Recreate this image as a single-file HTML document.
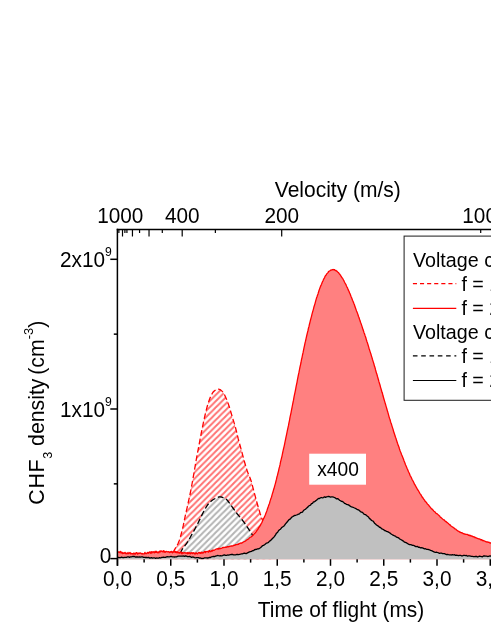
<!DOCTYPE html>
<html><head><meta charset="utf-8"><title>chart</title>
<style>html,body{margin:0;padding:0;background:#fff;}body{width:491px;height:635px;overflow:hidden;position:relative;font-family:"Liberation Sans",sans-serif;}</style>
</head><body>
<svg width="491" height="635" viewBox="0 0 491 635" style="position:absolute;left:0;top:0;will-change:transform;font-family:'Liberation Sans',sans-serif;">
<defs>
<pattern id="hr" patternTransform="translate(-1.8,0)" patternUnits="userSpaceOnUse" width="6.25" height="6.25"><path d="M-1,7.25 L7.25,-1 M-1,1 L1,-1 M5.25,7.25 L7.25,5.25" stroke="#ff7272" stroke-width="2.0"/></pattern>
<pattern id="hg" patternTransform="translate(-1.8,0)" patternUnits="userSpaceOnUse" width="6.25" height="6.25"><rect width="6.25" height="6.25" fill="#fff"/><path d="M-1,7.25 L7.25,-1 M-1,1 L1,-1 M5.25,7.25 L7.25,5.25" stroke="#b4b4b4" stroke-width="2.0"/></pattern>
<clipPath id="cp"><rect x="117.5" y="229.5" width="380" height="329.9"/></clipPath>
</defs>
<rect width="491" height="635" fill="#fff"/>
<g clip-path="url(#cp)">
<path d="M173.2,552.5 L174.2,550.4 L175.2,548.5 L176.2,546.8 L177.2,545.1 L178.2,543.2 L179.2,540.8 L180.2,537.7 L181.2,534.0 L182.2,530.1 L183.2,525.9 L184.2,521.1 L185.2,516.2 L186.2,511.7 L187.2,507.3 L188.2,502.7 L189.2,498.2 L190.2,493.5 L191.2,488.5 L192.2,483.0 L193.2,477.4 L194.2,471.7 L195.2,465.9 L196.2,460.0 L197.2,454.5 L198.2,449.3 L199.2,444.0 L200.2,438.7 L201.2,433.4 L202.2,428.4 L203.2,423.6 L204.2,418.9 L205.2,414.5 L206.2,410.3 L207.2,406.5 L208.2,403.1 L209.2,400.2 L210.2,397.6 L211.2,395.5 L212.2,393.5 L213.2,391.9 L214.2,391.0 L215.2,390.3 L216.2,389.8 L217.2,389.4 L218.2,389.2 L219.2,389.3 L220.2,389.7 L221.2,390.4 L222.2,391.4 L223.2,392.4 L224.2,394.1 L225.2,396.2 L226.2,398.5 L227.2,400.9 L228.2,403.6 L229.2,406.5 L230.2,409.7 L231.2,413.2 L232.2,416.7 L233.2,419.9 L234.2,423.1 L235.2,426.4 L236.2,430.3 L237.2,434.6 L238.2,438.7 L239.2,442.4 L240.2,446.0 L241.2,449.6 L242.2,453.3 L243.2,457.1 L244.2,460.8 L245.2,464.3 L246.2,467.7 L247.2,470.8 L248.2,473.6 L249.2,475.9 L250.2,478.3 L251.2,481.3 L252.2,484.8 L253.2,488.7 L254.2,492.5 L255.2,496.2 L256.2,499.9 L257.2,503.5 L258.2,507.0 L259.2,510.4 L260.2,513.7 L261.2,516.6 L262.2,519.3 L263.2,521.8 L264.2,524.6 L265.2,527.6 L266.2,530.7 L267.2,533.7 L268.2,536.5 L269.2,539.1 L270.2,541.6 L271.2,544.0 L271.2,559.4 L173.2,559.4 Z" fill="url(#hr)" stroke="none"/>
<path d="M173.2,552.5 L174.2,550.4 L175.2,548.5 L176.2,546.8 L177.2,545.1 L178.2,543.2 L179.2,540.8 L180.2,537.7 L181.2,534.0 L182.2,530.1 L183.2,525.9 L184.2,521.1 L185.2,516.2 L186.2,511.7 L187.2,507.3 L188.2,502.7 L189.2,498.2 L190.2,493.5 L191.2,488.5 L192.2,483.0 L193.2,477.4 L194.2,471.7 L195.2,465.9 L196.2,460.0 L197.2,454.5 L198.2,449.3 L199.2,444.0 L200.2,438.7 L201.2,433.4 L202.2,428.4 L203.2,423.6 L204.2,418.9 L205.2,414.5 L206.2,410.3 L207.2,406.5 L208.2,403.1 L209.2,400.2 L210.2,397.6 L211.2,395.5 L212.2,393.5 L213.2,391.9 L214.2,391.0 L215.2,390.3 L216.2,389.8 L217.2,389.4 L218.2,389.2 L219.2,389.3 L220.2,389.7 L221.2,390.4 L222.2,391.4 L223.2,392.4 L224.2,394.1 L225.2,396.2 L226.2,398.5 L227.2,400.9 L228.2,403.6 L229.2,406.5 L230.2,409.7 L231.2,413.2 L232.2,416.7 L233.2,419.9 L234.2,423.1 L235.2,426.4 L236.2,430.3 L237.2,434.6 L238.2,438.7 L239.2,442.4 L240.2,446.0 L241.2,449.6 L242.2,453.3 L243.2,457.1 L244.2,460.8 L245.2,464.3 L246.2,467.7 L247.2,470.8 L248.2,473.6 L249.2,475.9 L250.2,478.3 L251.2,481.3 L252.2,484.8 L253.2,488.7 L254.2,492.5 L255.2,496.2 L256.2,499.9 L257.2,503.5 L258.2,507.0 L259.2,510.4 L260.2,513.7 L261.2,516.6 L262.2,519.3 L263.2,521.8 L264.2,524.6 L265.2,527.6 L266.2,530.7 L267.2,533.7 L268.2,536.5 L269.2,539.1 L270.2,541.6 L271.2,544.0" fill="none" stroke="#ff0000" stroke-width="1.3" stroke-dasharray="5.8,2.8"/>
<path d="M180.3,553.5 L181.3,551.0 L182.3,549.2 L183.3,547.8 L184.3,546.5 L185.3,545.2 L186.3,543.9 L187.3,542.4 L188.3,540.7 L189.3,539.0 L190.3,537.2 L191.3,535.4 L192.3,533.6 L193.3,531.9 L194.3,530.1 L195.3,528.3 L196.3,526.4 L197.3,524.5 L198.3,522.5 L199.3,520.4 L200.3,518.4 L201.3,516.3 L202.3,514.3 L203.3,512.2 L204.3,510.3 L205.3,508.6 L206.3,506.9 L207.3,505.4 L208.3,504.0 L209.3,502.9 L210.3,501.9 L211.3,501.0 L212.3,500.2 L213.3,499.5 L214.3,499.0 L215.3,498.5 L216.3,498.0 L217.3,497.5 L218.3,497.2 L219.3,496.9 L220.3,496.9 L221.3,497.0 L222.3,497.3 L223.3,497.7 L224.3,498.1 L225.3,498.6 L226.3,499.3 L227.3,500.3 L228.3,501.5 L229.3,502.9 L230.3,504.4 L231.3,505.7 L232.3,507.1 L233.3,508.5 L234.3,509.9 L235.3,511.4 L236.3,512.7 L237.3,514.0 L238.3,515.2 L239.3,516.4 L240.3,517.5 L241.3,518.7 L242.3,520.0 L243.3,521.3 L244.3,522.7 L245.3,524.2 L246.3,525.6 L247.3,527.1 L248.3,528.6 L249.3,530.1 L250.3,531.6 L251.3,533.2 L252.3,534.8 L253.3,536.4 L254.3,538.2 L255.3,539.9 L256.3,541.4 L257.3,542.9 L258.3,544.2 L259.3,545.5 L260.3,546.8 L261.3,548.1 L261.3,559.4 L180.3,559.4 Z" fill="url(#hg)" stroke="none"/>
<path d="M180.3,553.5 L181.3,551.0 L182.3,549.2 L183.3,547.8 L184.3,546.5 L185.3,545.2 L186.3,543.9 L187.3,542.4 L188.3,540.7 L189.3,539.0 L190.3,537.2 L191.3,535.4 L192.3,533.6 L193.3,531.9 L194.3,530.1 L195.3,528.3 L196.3,526.4 L197.3,524.5 L198.3,522.5 L199.3,520.4 L200.3,518.4 L201.3,516.3 L202.3,514.3 L203.3,512.2 L204.3,510.3 L205.3,508.6 L206.3,506.9 L207.3,505.4 L208.3,504.0 L209.3,502.9 L210.3,501.9 L211.3,501.0 L212.3,500.2 L213.3,499.5 L214.3,499.0 L215.3,498.5 L216.3,498.0 L217.3,497.5 L218.3,497.2 L219.3,496.9 L220.3,496.9 L221.3,497.0 L222.3,497.3 L223.3,497.7 L224.3,498.1 L225.3,498.6 L226.3,499.3 L227.3,500.3 L228.3,501.5 L229.3,502.9 L230.3,504.4 L231.3,505.7 L232.3,507.1 L233.3,508.5 L234.3,509.9 L235.3,511.4 L236.3,512.7 L237.3,514.0 L238.3,515.2 L239.3,516.4 L240.3,517.5 L241.3,518.7 L242.3,520.0 L243.3,521.3 L244.3,522.7 L245.3,524.2 L246.3,525.6 L247.3,527.1 L248.3,528.6 L249.3,530.1 L250.3,531.6 L251.3,533.2 L252.3,534.8 L253.3,536.4 L254.3,538.2 L255.3,539.9 L256.3,541.4 L257.3,542.9 L258.3,544.2 L259.3,545.5 L260.3,546.8 L261.3,548.1" fill="none" stroke="#000" stroke-width="1.3" stroke-dasharray="5.8,2.8"/>
<path d="M117.5,551.5 L118.0,552.1 L118.5,551.9 L119.0,552.4 L119.5,552.5 L120.0,551.5 L120.5,551.5 L121.0,553.1 L121.5,552.1 L122.0,552.1 L122.5,553.6 L123.0,552.7 L123.5,553.4 L124.0,552.9 L124.5,553.2 L125.0,552.4 L125.5,553.3 L126.0,553.8 L126.5,553.2 L127.0,553.6 L127.5,553.5 L128.0,552.4 L128.5,553.7 L129.0,553.4 L129.5,552.9 L130.0,552.4 L130.5,553.9 L131.0,553.2 L131.5,553.6 L132.0,553.9 L132.5,553.6 L133.0,554.0 L133.5,553.1 L134.0,553.8 L134.5,553.2 L135.0,554.1 L135.5,554.0 L136.0,552.6 L136.5,552.6 L137.0,552.8 L137.5,554.1 L138.0,553.2 L138.5,553.5 L139.0,552.9 L139.5,553.3 L140.0,553.1 L140.5,553.0 L141.0,553.4 L141.5,553.4 L142.0,554.0 L142.5,553.5 L143.0,553.9 L143.5,553.8 L144.0,554.0 L144.5,553.4 L145.0,552.4 L145.5,553.6 L146.0,553.7 L146.5,553.6 L147.0,552.9 L147.5,553.1 L148.0,552.2 L148.5,553.2 L149.0,552.7 L149.5,552.2 L150.0,551.7 L150.5,553.1 L151.0,553.3 L151.5,551.6 L152.0,552.9 L152.5,552.2 L153.0,551.7 L153.5,551.9 L154.0,552.7 L154.5,552.8 L155.0,551.3 L155.5,552.3 L156.0,551.2 L156.5,552.4 L157.0,551.7 L157.5,552.7 L158.0,552.8 L158.5,551.9 L159.0,552.8 L159.5,551.5 L160.0,551.0 L160.5,551.9 L161.0,550.9 L161.5,551.1 L162.0,551.5 L162.5,551.8 L163.0,551.0 L163.5,550.7 L164.0,552.2 L164.5,551.2 L165.0,552.3 L165.5,552.2 L166.0,551.3 L166.5,551.5 L167.0,551.6 L167.5,551.8 L168.0,551.8 L168.5,551.7 L169.0,551.9 L169.5,552.5 L170.0,551.8 L170.5,551.7 L171.0,552.2 L171.5,551.4 L172.0,551.6 L172.5,552.8 L173.0,552.0 L173.5,552.1 L174.0,551.2 L174.5,552.0 L175.0,552.3 L175.5,551.4 L176.0,552.5 L176.5,552.6 L177.0,551.6 L177.5,552.7 L178.0,552.4 L178.5,552.9 L179.0,552.3 L179.5,553.0 L180.0,553.1 L180.5,551.9 L181.0,552.0 L181.5,553.2 L182.0,553.7 L182.5,552.5 L183.0,552.9 L183.5,553.2 L184.0,552.7 L184.5,552.8 L185.0,552.7 L185.5,552.9 L186.0,553.3 L186.5,552.8 L187.0,552.9 L187.5,553.7 L188.0,552.3 L188.5,553.3 L189.0,553.6 L189.5,552.9 L190.0,552.7 L190.5,553.8 L191.0,552.8 L191.5,552.7 L192.0,553.2 L192.5,553.6 L193.0,552.6 L193.5,553.0 L194.0,553.0 L194.5,553.9 L195.0,553.2 L195.5,553.9 L196.0,552.7 L196.5,553.0 L197.0,553.5 L197.5,553.9 L198.0,553.1 L198.5,552.6 L199.0,552.4 L199.5,553.1 L200.0,552.4 L200.5,553.4 L201.0,553.4 L201.5,552.2 L202.0,552.2 L202.5,553.1 L203.0,552.7 L203.5,552.9 L204.0,552.0 L204.5,551.5 L205.0,551.7 L205.5,552.6 L206.0,551.5 L206.5,551.6 L207.0,551.6 L207.5,551.5 L208.0,551.4 L208.5,552.1 L209.0,550.8 L209.5,550.4 L210.0,551.7 L210.5,551.5 L211.0,551.5 L211.5,550.6 L212.0,551.1 L212.5,550.9 L213.0,549.9 L213.5,550.4 L214.0,550.4 L214.5,550.0 L215.0,549.7 L215.5,549.3 L216.0,549.2 L216.5,549.0 L217.0,548.7 L217.5,549.1 L218.0,548.6 L218.5,549.0 L219.0,548.1 L219.5,548.8 L220.0,548.5 L220.5,548.6 L221.0,548.4 L221.5,548.3 L222.0,547.9 L222.5,547.4 L223.0,547.8 L223.5,547.3 L224.0,547.3 L224.5,547.5 L225.0,547.3 L225.5,547.2 L226.0,547.4 L226.5,547.1 L227.0,546.8 L227.5,546.7 L228.0,547.0 L228.5,546.6 L229.0,546.7 L229.5,546.3 L230.0,546.1 L230.5,546.2 L231.0,546.3 L231.5,545.8 L232.0,546.0 L232.5,546.0 L233.0,545.8 L233.5,545.7 L234.0,545.1 L234.5,545.3 L235.0,545.3 L235.5,544.7 L236.0,544.7 L236.5,544.6 L237.0,544.6 L237.5,544.4 L238.0,544.2 L238.5,544.3 L239.0,543.6 L239.5,543.5 L240.0,543.4 L240.5,543.2 L241.0,542.9 L241.5,543.3 L242.0,543.0 L242.5,542.3 L243.0,542.3 L243.5,542.0 L244.0,541.7 L244.5,541.5 L245.0,541.3 L245.5,541.0 L246.0,540.5 L246.5,540.1 L247.0,539.8 L247.5,539.4 L248.0,539.3 L248.5,539.0 L249.0,538.4 L249.5,537.8 L250.0,537.5 L250.5,537.2 L251.0,537.0 L251.5,536.7 L252.0,536.0 L252.5,535.8 L253.0,535.3 L253.5,534.6 L254.0,534.1 L254.5,533.6 L255.0,533.2 L255.5,532.4 L256.0,532.0 L256.5,531.2 L257.0,530.4 L257.5,529.8 L258.0,529.2 L258.5,528.0 L259.0,527.5 L259.5,526.6 L260.0,526.0 L260.5,525.2 L261.0,523.9 L261.5,523.3 L262.0,522.2 L262.5,520.9 L263.0,519.9 L263.5,518.6 L264.0,517.9 L264.5,516.7 L265.0,515.6 L265.5,514.4 L266.0,513.0 L266.5,511.8 L267.0,510.4 L267.5,508.7 L268.0,507.6 L268.5,505.9 L269.0,504.5 L269.5,503.4 L270.0,501.4 L270.5,499.9 L271.0,498.3 L271.5,497.2 L272.0,495.1 L272.5,493.3 L273.0,492.1 L273.5,489.9 L274.0,488.6 L274.5,486.6 L275.0,484.9 L275.5,483.1 L276.0,481.0 L276.5,479.2 L277.0,476.7 L277.5,475.2 L278.0,473.0 L278.5,471.1 L279.0,468.7 L279.5,466.9 L280.0,464.9 L280.5,462.2 L281.0,460.2 L281.5,458.2 L282.0,456.1 L282.5,453.5 L283.0,451.2 L283.5,448.9 L284.0,446.8 L284.5,444.6 L285.0,442.0 L285.5,439.6 L286.0,437.2 L286.5,434.8 L287.0,432.4 L287.5,429.8 L288.0,427.6 L288.5,425.4 L289.0,422.6 L289.5,420.3 L290.0,417.4 L290.5,415.2 L291.0,412.8 L291.5,410.2 L292.0,407.6 L292.5,405.0 L293.0,402.5 L293.5,400.2 L294.0,397.2 L294.5,394.6 L295.0,392.4 L295.5,390.0 L296.0,387.2 L296.5,384.6 L297.0,382.3 L297.5,379.4 L298.0,377.0 L298.5,374.4 L299.0,372.2 L299.5,369.5 L300.0,367.0 L300.5,364.8 L301.0,362.5 L301.5,359.7 L302.0,357.6 L302.5,355.0 L303.0,352.9 L303.5,350.4 L304.0,347.9 L304.5,345.6 L305.0,343.2 L305.5,341.2 L306.0,338.9 L306.5,336.6 L307.0,334.5 L307.5,332.3 L308.0,330.5 L308.5,328.0 L309.0,326.4 L309.5,324.0 L310.0,322.1 L310.5,320.0 L311.0,318.2 L311.5,316.3 L312.0,314.2 L312.5,312.3 L313.0,310.6 L313.5,308.8 L314.0,306.7 L314.5,305.2 L315.0,303.6 L315.5,301.6 L316.0,299.8 L316.5,298.1 L317.0,296.8 L317.5,295.2 L318.0,293.9 L318.5,292.3 L319.0,290.5 L319.5,289.1 L320.0,287.7 L320.5,286.4 L321.0,285.4 L321.5,284.3 L322.0,283.1 L322.5,281.6 L323.0,280.8 L323.5,279.5 L324.0,278.5 L324.5,277.8 L325.0,276.5 L325.5,275.6 L326.0,275.3 L326.5,274.2 L327.0,273.6 L327.5,273.1 L328.0,272.6 L328.5,271.6 L329.0,271.3 L329.5,271.0 L330.0,270.7 L330.5,270.2 L331.0,270.1 L331.5,270.1 L332.0,269.7 L332.5,269.8 L333.0,269.5 L333.5,269.6 L334.0,269.9 L334.5,269.6 L335.0,270.3 L335.5,270.6 L336.0,270.4 L336.5,271.2 L337.0,271.2 L337.5,271.9 L338.0,272.4 L338.5,272.6 L339.0,273.4 L339.5,274.0 L340.0,274.7 L340.5,275.1 L341.0,276.1 L341.5,277.0 L342.0,277.6 L342.5,278.3 L343.0,278.9 L343.5,280.0 L344.0,280.9 L344.5,282.0 L345.0,283.0 L345.5,283.9 L346.0,284.7 L346.5,286.0 L347.0,287.1 L347.5,287.9 L348.0,289.4 L348.5,290.4 L349.0,291.3 L349.5,292.9 L350.0,293.6 L350.5,295.0 L351.0,296.4 L351.5,297.6 L352.0,298.8 L352.5,300.2 L353.0,301.3 L353.5,302.5 L354.0,303.8 L354.5,305.0 L355.0,306.8 L355.5,308.1 L356.0,309.4 L356.5,310.9 L357.0,312.0 L357.5,313.4 L358.0,314.8 L358.5,316.5 L359.0,317.5 L359.5,319.2 L360.0,320.5 L360.5,322.2 L361.0,323.4 L361.5,324.9 L362.0,326.4 L362.5,328.0 L363.0,329.6 L363.5,330.9 L364.0,332.7 L364.5,333.7 L365.0,335.4 L365.5,336.8 L366.0,338.3 L366.5,340.3 L367.0,341.8 L367.5,343.1 L368.0,344.7 L368.5,346.4 L369.0,348.2 L369.5,349.8 L370.0,351.4 L370.5,352.9 L371.0,354.3 L371.5,356.1 L372.0,357.6 L372.5,359.5 L373.0,361.1 L373.5,362.6 L374.0,364.3 L374.5,366.3 L375.0,367.6 L375.5,369.7 L376.0,371.5 L376.5,373.3 L377.0,374.6 L377.5,376.5 L378.0,378.2 L378.5,380.0 L379.0,381.9 L379.5,383.5 L380.0,385.0 L380.5,387.1 L381.0,388.7 L381.5,390.5 L382.0,392.3 L382.5,393.6 L383.0,395.8 L383.5,397.5 L384.0,399.2 L384.5,400.9 L385.0,402.6 L385.5,404.2 L386.0,406.1 L386.5,407.6 L387.0,409.5 L387.5,411.3 L388.0,412.9 L388.5,414.7 L389.0,416.6 L389.5,418.2 L390.0,419.4 L390.5,421.5 L391.0,423.0 L391.5,424.3 L392.0,426.1 L392.5,427.6 L393.0,429.1 L393.5,431.0 L394.0,432.8 L394.5,433.9 L395.0,435.8 L395.5,437.2 L396.0,438.4 L396.5,440.3 L397.0,441.7 L397.5,443.3 L398.0,444.7 L398.5,446.1 L399.0,447.3 L399.5,449.0 L400.0,450.5 L400.5,451.8 L401.0,452.9 L401.5,454.5 L402.0,455.6 L402.5,456.7 L403.0,458.0 L403.5,459.3 L404.0,460.7 L404.5,461.9 L405.0,463.3 L405.5,464.7 L406.0,465.8 L406.5,466.9 L407.0,468.3 L407.5,469.2 L408.0,470.5 L408.5,471.8 L409.0,472.7 L409.5,473.7 L410.0,475.2 L410.5,476.2 L411.0,477.0 L411.5,478.1 L412.0,479.2 L412.5,480.2 L413.0,481.0 L413.5,481.9 L414.0,483.0 L414.5,484.3 L415.0,484.8 L415.5,485.9 L416.0,486.7 L416.5,487.6 L417.0,488.5 L417.5,489.5 L418.0,490.2 L418.5,490.9 L419.0,491.8 L419.5,492.7 L420.0,493.6 L420.5,494.2 L421.0,494.9 L421.5,495.9 L422.0,496.6 L422.5,497.6 L423.0,497.9 L423.5,498.8 L424.0,499.5 L424.5,499.9 L425.0,501.2 L425.5,501.4 L426.0,502.0 L426.5,502.8 L427.0,503.3 L427.5,504.1 L428.0,504.6 L428.5,505.0 L429.0,505.6 L429.5,506.5 L430.0,506.8 L430.5,507.7 L431.0,508.0 L431.5,508.9 L432.0,509.0 L432.5,509.5 L433.0,510.0 L433.5,510.8 L434.0,511.2 L434.5,511.5 L435.0,511.9 L435.5,512.7 L436.0,513.3 L436.5,513.6 L437.0,513.7 L437.5,514.1 L438.0,514.6 L438.5,515.1 L439.0,515.5 L439.5,515.9 L440.0,516.7 L440.5,517.3 L441.0,517.3 L441.5,518.2 L442.0,518.3 L442.5,518.9 L443.0,519.4 L443.5,519.8 L444.0,519.7 L444.5,520.3 L445.0,520.9 L445.5,521.5 L446.0,521.4 L446.5,521.9 L447.0,522.7 L447.5,522.6 L448.0,523.2 L448.5,523.6 L449.0,524.2 L449.5,524.8 L450.0,524.7 L450.5,525.5 L451.0,525.9 L451.5,526.3 L452.0,526.6 L452.5,527.2 L453.0,527.2 L453.5,527.6 L454.0,527.9 L454.5,528.6 L455.0,528.8 L455.5,529.0 L456.0,529.3 L456.5,530.0 L457.0,530.3 L457.5,530.8 L458.0,530.9 L458.5,531.3 L459.0,531.4 L459.5,532.0 L460.0,531.9 L460.5,532.4 L461.0,532.7 L461.5,532.9 L462.0,532.7 L462.5,533.0 L463.0,533.5 L463.5,533.6 L464.0,533.9 L464.5,534.0 L465.0,533.9 L465.5,534.3 L466.0,534.4 L466.5,534.3 L467.0,534.5 L467.5,534.5 L468.0,534.8 L468.5,535.3 L469.0,535.0 L469.5,535.5 L470.0,535.4 L470.5,535.5 L471.0,536.0 L471.5,536.0 L472.0,536.0 L472.5,536.3 L473.0,536.8 L473.5,536.9 L474.0,536.7 L474.5,537.0 L475.0,537.7 L475.5,537.4 L476.0,537.8 L476.5,537.9 L477.0,538.3 L477.5,538.4 L478.0,538.7 L478.5,538.8 L479.0,538.8 L479.5,539.0 L480.0,539.1 L480.5,539.8 L481.0,539.5 L481.5,539.7 L482.0,540.4 L482.5,540.2 L483.0,540.8 L483.5,540.5 L484.0,540.9 L484.5,540.9 L485.0,541.4 L485.5,541.5 L486.0,541.6 L486.5,541.9 L487.0,542.1 L487.5,541.9 L488.0,542.2 L488.5,542.3 L489.0,542.2 L489.5,542.8 L490.0,542.8 L490.5,543.1 L491.0,542.8 L491.5,543.2 L492.0,543.3 L492.0,559.4 L117.5,559.4 Z" fill="#ff8080" stroke="none"/>
<path d="M117.5,551.5 L118.0,552.1 L118.5,551.9 L119.0,552.4 L119.5,552.5 L120.0,551.5 L120.5,551.5 L121.0,553.1 L121.5,552.1 L122.0,552.1 L122.5,553.6 L123.0,552.7 L123.5,553.4 L124.0,552.9 L124.5,553.2 L125.0,552.4 L125.5,553.3 L126.0,553.8 L126.5,553.2 L127.0,553.6 L127.5,553.5 L128.0,552.4 L128.5,553.7 L129.0,553.4 L129.5,552.9 L130.0,552.4 L130.5,553.9 L131.0,553.2 L131.5,553.6 L132.0,553.9 L132.5,553.6 L133.0,554.0 L133.5,553.1 L134.0,553.8 L134.5,553.2 L135.0,554.1 L135.5,554.0 L136.0,552.6 L136.5,552.6 L137.0,552.8 L137.5,554.1 L138.0,553.2 L138.5,553.5 L139.0,552.9 L139.5,553.3 L140.0,553.1 L140.5,553.0 L141.0,553.4 L141.5,553.4 L142.0,554.0 L142.5,553.5 L143.0,553.9 L143.5,553.8 L144.0,554.0 L144.5,553.4 L145.0,552.4 L145.5,553.6 L146.0,553.7 L146.5,553.6 L147.0,552.9 L147.5,553.1 L148.0,552.2 L148.5,553.2 L149.0,552.7 L149.5,552.2 L150.0,551.7 L150.5,553.1 L151.0,553.3 L151.5,551.6 L152.0,552.9 L152.5,552.2 L153.0,551.7 L153.5,551.9 L154.0,552.7 L154.5,552.8 L155.0,551.3 L155.5,552.3 L156.0,551.2 L156.5,552.4 L157.0,551.7 L157.5,552.7 L158.0,552.8 L158.5,551.9 L159.0,552.8 L159.5,551.5 L160.0,551.0 L160.5,551.9 L161.0,550.9 L161.5,551.1 L162.0,551.5 L162.5,551.8 L163.0,551.0 L163.5,550.7 L164.0,552.2 L164.5,551.2 L165.0,552.3 L165.5,552.2 L166.0,551.3 L166.5,551.5 L167.0,551.6 L167.5,551.8 L168.0,551.8 L168.5,551.7 L169.0,551.9 L169.5,552.5 L170.0,551.8 L170.5,551.7 L171.0,552.2 L171.5,551.4 L172.0,551.6 L172.5,552.8 L173.0,552.0 L173.5,552.1 L174.0,551.2 L174.5,552.0 L175.0,552.3 L175.5,551.4 L176.0,552.5 L176.5,552.6 L177.0,551.6 L177.5,552.7 L178.0,552.4 L178.5,552.9 L179.0,552.3 L179.5,553.0 L180.0,553.1 L180.5,551.9 L181.0,552.0 L181.5,553.2 L182.0,553.7 L182.5,552.5 L183.0,552.9 L183.5,553.2 L184.0,552.7 L184.5,552.8 L185.0,552.7 L185.5,552.9 L186.0,553.3 L186.5,552.8 L187.0,552.9 L187.5,553.7 L188.0,552.3 L188.5,553.3 L189.0,553.6 L189.5,552.9 L190.0,552.7 L190.5,553.8 L191.0,552.8 L191.5,552.7 L192.0,553.2 L192.5,553.6 L193.0,552.6 L193.5,553.0 L194.0,553.0 L194.5,553.9 L195.0,553.2 L195.5,553.9 L196.0,552.7 L196.5,553.0 L197.0,553.5 L197.5,553.9 L198.0,553.1 L198.5,552.6 L199.0,552.4 L199.5,553.1 L200.0,552.4 L200.5,553.4 L201.0,553.4 L201.5,552.2 L202.0,552.2 L202.5,553.1 L203.0,552.7 L203.5,552.9 L204.0,552.0 L204.5,551.5 L205.0,551.7 L205.5,552.6 L206.0,551.5 L206.5,551.6 L207.0,551.6 L207.5,551.5 L208.0,551.4 L208.5,552.1 L209.0,550.8 L209.5,550.4 L210.0,551.7 L210.5,551.5 L211.0,551.5 L211.5,550.6 L212.0,551.1 L212.5,550.9 L213.0,549.9 L213.5,550.4 L214.0,550.4 L214.5,550.0 L215.0,549.7 L215.5,549.3 L216.0,549.2 L216.5,549.0 L217.0,548.7 L217.5,549.1 L218.0,548.6 L218.5,549.0 L219.0,548.1 L219.5,548.8 L220.0,548.5 L220.5,548.6 L221.0,548.4 L221.5,548.3 L222.0,547.9 L222.5,547.4 L223.0,547.8 L223.5,547.3 L224.0,547.3 L224.5,547.5 L225.0,547.3 L225.5,547.2 L226.0,547.4 L226.5,547.1 L227.0,546.8 L227.5,546.7 L228.0,547.0 L228.5,546.6 L229.0,546.7 L229.5,546.3 L230.0,546.1 L230.5,546.2 L231.0,546.3 L231.5,545.8 L232.0,546.0 L232.5,546.0 L233.0,545.8 L233.5,545.7 L234.0,545.1 L234.5,545.3 L235.0,545.3 L235.5,544.7 L236.0,544.7 L236.5,544.6 L237.0,544.6 L237.5,544.4 L238.0,544.2 L238.5,544.3 L239.0,543.6 L239.5,543.5 L240.0,543.4 L240.5,543.2 L241.0,542.9 L241.5,543.3 L242.0,543.0 L242.5,542.3 L243.0,542.3 L243.5,542.0 L244.0,541.7 L244.5,541.5 L245.0,541.3 L245.5,541.0 L246.0,540.5 L246.5,540.1 L247.0,539.8 L247.5,539.4 L248.0,539.3 L248.5,539.0 L249.0,538.4 L249.5,537.8 L250.0,537.5 L250.5,537.2 L251.0,537.0 L251.5,536.7 L252.0,536.0 L252.5,535.8 L253.0,535.3 L253.5,534.6 L254.0,534.1 L254.5,533.6 L255.0,533.2 L255.5,532.4 L256.0,532.0 L256.5,531.2 L257.0,530.4 L257.5,529.8 L258.0,529.2 L258.5,528.0 L259.0,527.5 L259.5,526.6 L260.0,526.0 L260.5,525.2 L261.0,523.9 L261.5,523.3 L262.0,522.2 L262.5,520.9 L263.0,519.9 L263.5,518.6 L264.0,517.9 L264.5,516.7 L265.0,515.6 L265.5,514.4 L266.0,513.0 L266.5,511.8 L267.0,510.4 L267.5,508.7 L268.0,507.6 L268.5,505.9 L269.0,504.5 L269.5,503.4 L270.0,501.4 L270.5,499.9 L271.0,498.3 L271.5,497.2 L272.0,495.1 L272.5,493.3 L273.0,492.1 L273.5,489.9 L274.0,488.6 L274.5,486.6 L275.0,484.9 L275.5,483.1 L276.0,481.0 L276.5,479.2 L277.0,476.7 L277.5,475.2 L278.0,473.0 L278.5,471.1 L279.0,468.7 L279.5,466.9 L280.0,464.9 L280.5,462.2 L281.0,460.2 L281.5,458.2 L282.0,456.1 L282.5,453.5 L283.0,451.2 L283.5,448.9 L284.0,446.8 L284.5,444.6 L285.0,442.0 L285.5,439.6 L286.0,437.2 L286.5,434.8 L287.0,432.4 L287.5,429.8 L288.0,427.6 L288.5,425.4 L289.0,422.6 L289.5,420.3 L290.0,417.4 L290.5,415.2 L291.0,412.8 L291.5,410.2 L292.0,407.6 L292.5,405.0 L293.0,402.5 L293.5,400.2 L294.0,397.2 L294.5,394.6 L295.0,392.4 L295.5,390.0 L296.0,387.2 L296.5,384.6 L297.0,382.3 L297.5,379.4 L298.0,377.0 L298.5,374.4 L299.0,372.2 L299.5,369.5 L300.0,367.0 L300.5,364.8 L301.0,362.5 L301.5,359.7 L302.0,357.6 L302.5,355.0 L303.0,352.9 L303.5,350.4 L304.0,347.9 L304.5,345.6 L305.0,343.2 L305.5,341.2 L306.0,338.9 L306.5,336.6 L307.0,334.5 L307.5,332.3 L308.0,330.5 L308.5,328.0 L309.0,326.4 L309.5,324.0 L310.0,322.1 L310.5,320.0 L311.0,318.2 L311.5,316.3 L312.0,314.2 L312.5,312.3 L313.0,310.6 L313.5,308.8 L314.0,306.7 L314.5,305.2 L315.0,303.6 L315.5,301.6 L316.0,299.8 L316.5,298.1 L317.0,296.8 L317.5,295.2 L318.0,293.9 L318.5,292.3 L319.0,290.5 L319.5,289.1 L320.0,287.7 L320.5,286.4 L321.0,285.4 L321.5,284.3 L322.0,283.1 L322.5,281.6 L323.0,280.8 L323.5,279.5 L324.0,278.5 L324.5,277.8 L325.0,276.5 L325.5,275.6 L326.0,275.3 L326.5,274.2 L327.0,273.6 L327.5,273.1 L328.0,272.6 L328.5,271.6 L329.0,271.3 L329.5,271.0 L330.0,270.7 L330.5,270.2 L331.0,270.1 L331.5,270.1 L332.0,269.7 L332.5,269.8 L333.0,269.5 L333.5,269.6 L334.0,269.9 L334.5,269.6 L335.0,270.3 L335.5,270.6 L336.0,270.4 L336.5,271.2 L337.0,271.2 L337.5,271.9 L338.0,272.4 L338.5,272.6 L339.0,273.4 L339.5,274.0 L340.0,274.7 L340.5,275.1 L341.0,276.1 L341.5,277.0 L342.0,277.6 L342.5,278.3 L343.0,278.9 L343.5,280.0 L344.0,280.9 L344.5,282.0 L345.0,283.0 L345.5,283.9 L346.0,284.7 L346.5,286.0 L347.0,287.1 L347.5,287.9 L348.0,289.4 L348.5,290.4 L349.0,291.3 L349.5,292.9 L350.0,293.6 L350.5,295.0 L351.0,296.4 L351.5,297.6 L352.0,298.8 L352.5,300.2 L353.0,301.3 L353.5,302.5 L354.0,303.8 L354.5,305.0 L355.0,306.8 L355.5,308.1 L356.0,309.4 L356.5,310.9 L357.0,312.0 L357.5,313.4 L358.0,314.8 L358.5,316.5 L359.0,317.5 L359.5,319.2 L360.0,320.5 L360.5,322.2 L361.0,323.4 L361.5,324.9 L362.0,326.4 L362.5,328.0 L363.0,329.6 L363.5,330.9 L364.0,332.7 L364.5,333.7 L365.0,335.4 L365.5,336.8 L366.0,338.3 L366.5,340.3 L367.0,341.8 L367.5,343.1 L368.0,344.7 L368.5,346.4 L369.0,348.2 L369.5,349.8 L370.0,351.4 L370.5,352.9 L371.0,354.3 L371.5,356.1 L372.0,357.6 L372.5,359.5 L373.0,361.1 L373.5,362.6 L374.0,364.3 L374.5,366.3 L375.0,367.6 L375.5,369.7 L376.0,371.5 L376.5,373.3 L377.0,374.6 L377.5,376.5 L378.0,378.2 L378.5,380.0 L379.0,381.9 L379.5,383.5 L380.0,385.0 L380.5,387.1 L381.0,388.7 L381.5,390.5 L382.0,392.3 L382.5,393.6 L383.0,395.8 L383.5,397.5 L384.0,399.2 L384.5,400.9 L385.0,402.6 L385.5,404.2 L386.0,406.1 L386.5,407.6 L387.0,409.5 L387.5,411.3 L388.0,412.9 L388.5,414.7 L389.0,416.6 L389.5,418.2 L390.0,419.4 L390.5,421.5 L391.0,423.0 L391.5,424.3 L392.0,426.1 L392.5,427.6 L393.0,429.1 L393.5,431.0 L394.0,432.8 L394.5,433.9 L395.0,435.8 L395.5,437.2 L396.0,438.4 L396.5,440.3 L397.0,441.7 L397.5,443.3 L398.0,444.7 L398.5,446.1 L399.0,447.3 L399.5,449.0 L400.0,450.5 L400.5,451.8 L401.0,452.9 L401.5,454.5 L402.0,455.6 L402.5,456.7 L403.0,458.0 L403.5,459.3 L404.0,460.7 L404.5,461.9 L405.0,463.3 L405.5,464.7 L406.0,465.8 L406.5,466.9 L407.0,468.3 L407.5,469.2 L408.0,470.5 L408.5,471.8 L409.0,472.7 L409.5,473.7 L410.0,475.2 L410.5,476.2 L411.0,477.0 L411.5,478.1 L412.0,479.2 L412.5,480.2 L413.0,481.0 L413.5,481.9 L414.0,483.0 L414.5,484.3 L415.0,484.8 L415.5,485.9 L416.0,486.7 L416.5,487.6 L417.0,488.5 L417.5,489.5 L418.0,490.2 L418.5,490.9 L419.0,491.8 L419.5,492.7 L420.0,493.6 L420.5,494.2 L421.0,494.9 L421.5,495.9 L422.0,496.6 L422.5,497.6 L423.0,497.9 L423.5,498.8 L424.0,499.5 L424.5,499.9 L425.0,501.2 L425.5,501.4 L426.0,502.0 L426.5,502.8 L427.0,503.3 L427.5,504.1 L428.0,504.6 L428.5,505.0 L429.0,505.6 L429.5,506.5 L430.0,506.8 L430.5,507.7 L431.0,508.0 L431.5,508.9 L432.0,509.0 L432.5,509.5 L433.0,510.0 L433.5,510.8 L434.0,511.2 L434.5,511.5 L435.0,511.9 L435.5,512.7 L436.0,513.3 L436.5,513.6 L437.0,513.7 L437.5,514.1 L438.0,514.6 L438.5,515.1 L439.0,515.5 L439.5,515.9 L440.0,516.7 L440.5,517.3 L441.0,517.3 L441.5,518.2 L442.0,518.3 L442.5,518.9 L443.0,519.4 L443.5,519.8 L444.0,519.7 L444.5,520.3 L445.0,520.9 L445.5,521.5 L446.0,521.4 L446.5,521.9 L447.0,522.7 L447.5,522.6 L448.0,523.2 L448.5,523.6 L449.0,524.2 L449.5,524.8 L450.0,524.7 L450.5,525.5 L451.0,525.9 L451.5,526.3 L452.0,526.6 L452.5,527.2 L453.0,527.2 L453.5,527.6 L454.0,527.9 L454.5,528.6 L455.0,528.8 L455.5,529.0 L456.0,529.3 L456.5,530.0 L457.0,530.3 L457.5,530.8 L458.0,530.9 L458.5,531.3 L459.0,531.4 L459.5,532.0 L460.0,531.9 L460.5,532.4 L461.0,532.7 L461.5,532.9 L462.0,532.7 L462.5,533.0 L463.0,533.5 L463.5,533.6 L464.0,533.9 L464.5,534.0 L465.0,533.9 L465.5,534.3 L466.0,534.4 L466.5,534.3 L467.0,534.5 L467.5,534.5 L468.0,534.8 L468.5,535.3 L469.0,535.0 L469.5,535.5 L470.0,535.4 L470.5,535.5 L471.0,536.0 L471.5,536.0 L472.0,536.0 L472.5,536.3 L473.0,536.8 L473.5,536.9 L474.0,536.7 L474.5,537.0 L475.0,537.7 L475.5,537.4 L476.0,537.8 L476.5,537.9 L477.0,538.3 L477.5,538.4 L478.0,538.7 L478.5,538.8 L479.0,538.8 L479.5,539.0 L480.0,539.1 L480.5,539.8 L481.0,539.5 L481.5,539.7 L482.0,540.4 L482.5,540.2 L483.0,540.8 L483.5,540.5 L484.0,540.9 L484.5,540.9 L485.0,541.4 L485.5,541.5 L486.0,541.6 L486.5,541.9 L487.0,542.1 L487.5,541.9 L488.0,542.2 L488.5,542.3 L489.0,542.2 L489.5,542.8 L490.0,542.8 L490.5,543.1 L491.0,542.8 L491.5,543.2 L492.0,543.3" fill="none" stroke="#ff0000" stroke-width="1.3" stroke-linejoin="round"/>
<path d="M117.5,558.0 L118.5,557.4 L119.5,557.6 L120.5,557.6 L121.5,557.2 L122.5,557.5 L123.5,557.6 L124.5,557.3 L125.5,557.4 L126.5,557.3 L127.5,556.9 L128.5,556.9 L129.5,557.4 L130.5,556.8 L131.5,556.8 L132.5,556.5 L133.5,556.5 L134.5,556.5 L135.5,557.1 L136.5,556.9 L137.5,557.0 L138.5,557.1 L139.5,556.8 L140.5,557.1 L141.5,556.9 L142.5,556.9 L143.5,557.4 L144.5,557.4 L145.5,557.5 L146.5,557.3 L147.5,557.6 L148.5,557.4 L149.5,558.0 L150.5,558.0 L151.5,557.6 L152.5,558.2 L153.5,557.8 L154.5,557.8 L155.5,558.4 L156.5,558.0 L157.5,558.2 L158.5,558.2 L159.5,557.6 L160.5,558.0 L161.5,557.5 L162.5,557.4 L163.5,557.2 L164.5,557.4 L165.5,557.4 L166.5,556.9 L167.5,556.7 L168.5,556.8 L169.5,556.8 L170.5,556.5 L171.5,556.5 L172.5,556.9 L173.5,556.8 L174.5,557.0 L175.5,556.9 L176.5,556.8 L177.5,556.3 L178.5,556.1 L179.5,556.1 L180.5,556.2 L181.5,556.2 L182.5,556.2 L183.5,556.0 L184.5,556.4 L185.5,555.9 L186.5,556.1 L187.5,556.6 L188.5,556.7 L189.5,556.5 L190.5,556.7 L191.5,557.4 L192.5,557.0 L193.5,557.2 L194.5,557.7 L195.5,557.8 L196.5,557.6 L197.5,557.6 L198.5,557.7 L199.5,558.2 L200.5,558.0 L201.5,558.5 L202.5,558.4 L203.5,558.6 L204.5,557.8 L205.5,557.9 L206.5,557.8 L207.5,558.0 L208.5,557.8 L209.5,557.3 L210.5,557.5 L211.5,556.8 L212.5,556.7 L213.5,556.4 L214.5,556.6 L215.5,556.1 L216.5,555.8 L217.5,555.5 L218.5,555.7 L219.5,555.8 L220.5,555.7 L221.5,555.8 L222.5,555.6 L223.5,555.1 L224.5,554.9 L225.5,555.3 L226.5,555.3 L227.5,555.0 L228.5,555.2 L229.5,554.9 L230.5,554.7 L231.5,554.5 L232.5,554.4 L233.5,554.8 L234.5,554.9 L235.5,554.9 L236.5,554.5 L237.5,554.5 L238.5,554.6 L239.5,554.4 L240.5,554.2 L241.5,553.9 L242.5,553.8 L243.5,553.4 L244.5,553.2 L245.5,553.5 L246.5,553.5 L247.5,552.9 L248.5,552.4 L249.5,551.9 L250.5,551.6 L251.5,551.4 L252.5,550.7 L253.5,550.7 L254.5,549.7 L255.5,549.5 L256.5,549.3 L257.5,548.9 L258.5,548.8 L259.5,548.3 L260.5,547.7 L261.5,546.8 L262.5,545.7 L263.5,545.4 L264.5,544.7 L265.5,543.9 L266.5,543.1 L267.5,542.8 L268.5,542.4 L269.5,541.1 L270.5,540.7 L271.5,539.5 L272.5,538.5 L273.5,537.6 L274.5,536.4 L275.5,534.8 L276.5,533.1 L277.5,532.5 L278.5,530.7 L279.5,529.8 L280.5,529.2 L281.5,527.8 L282.5,526.9 L283.5,526.5 L284.5,525.4 L285.5,523.9 L286.5,522.8 L287.5,521.5 L288.5,520.3 L289.5,519.3 L290.5,518.9 L291.5,517.4 L292.5,516.8 L293.5,516.1 L294.5,515.5 L295.5,515.3 L296.5,515.0 L297.5,514.6 L298.5,514.1 L299.5,513.9 L300.5,512.7 L301.5,512.3 L302.5,512.1 L303.5,510.5 L304.5,509.8 L305.5,509.2 L306.5,508.1 L307.5,507.5 L308.5,506.2 L309.5,505.5 L310.5,505.2 L311.5,503.6 L312.5,503.3 L313.5,501.9 L314.5,501.8 L315.5,500.9 L316.5,500.2 L317.5,499.2 L318.5,498.5 L319.5,498.6 L320.5,497.8 L321.5,497.5 L322.5,497.8 L323.5,497.6 L324.5,496.8 L325.5,497.4 L326.5,496.9 L327.5,496.7 L328.5,496.4 L329.5,496.6 L330.5,497.2 L331.5,496.8 L332.5,496.9 L333.5,497.2 L334.5,497.5 L335.5,498.1 L336.5,498.9 L337.5,498.6 L338.5,499.1 L339.5,500.2 L340.5,500.8 L341.5,501.4 L342.5,501.5 L343.5,502.2 L344.5,503.4 L345.5,503.6 L346.5,504.4 L347.5,504.6 L348.5,504.9 L349.5,505.6 L350.5,506.4 L351.5,506.8 L352.5,507.1 L353.5,507.5 L354.5,508.0 L355.5,508.4 L356.5,509.0 L357.5,509.7 L358.5,509.8 L359.5,510.7 L360.5,511.6 L361.5,512.2 L362.5,512.4 L363.5,513.7 L364.5,514.4 L365.5,514.6 L366.5,515.5 L367.5,516.3 L368.5,517.0 L369.5,518.7 L370.5,519.2 L371.5,520.5 L372.5,520.8 L373.5,521.6 L374.5,523.2 L375.5,524.0 L376.5,525.0 L377.5,525.6 L378.5,526.3 L379.5,527.3 L380.5,527.5 L381.5,528.6 L382.5,529.2 L383.5,529.5 L384.5,530.5 L385.5,530.7 L386.5,531.4 L387.5,531.7 L388.5,532.1 L389.5,532.7 L390.5,533.4 L391.5,534.2 L392.5,534.8 L393.5,535.3 L394.5,535.9 L395.5,536.1 L396.5,537.2 L397.5,537.3 L398.5,537.8 L399.5,538.7 L400.5,539.5 L401.5,539.8 L402.5,540.7 L403.5,541.1 L404.5,542.2 L405.5,542.4 L406.5,542.9 L407.5,543.5 L408.5,544.2 L409.5,544.6 L410.5,544.6 L411.5,544.9 L412.5,545.4 L413.5,545.3 L414.5,545.9 L415.5,546.5 L416.5,546.7 L417.5,546.4 L418.5,547.3 L419.5,547.2 L420.5,547.9 L421.5,547.7 L422.5,547.8 L423.5,548.3 L424.5,548.8 L425.5,548.7 L426.5,549.3 L427.5,549.4 L428.5,549.5 L429.5,549.8 L430.5,550.4 L431.5,550.7 L432.5,551.1 L433.5,551.7 L434.5,552.2 L435.5,552.3 L436.5,552.2 L437.5,552.5 L438.5,552.9 L439.5,553.3 L440.5,553.1 L441.5,553.2 L442.5,553.6 L443.5,553.7 L444.5,553.6 L445.5,554.2 L446.5,554.6 L447.5,554.3 L448.5,554.6 L449.5,554.8 L450.5,554.9 L451.5,555.0 L452.5,554.7 L453.5,555.0 L454.5,554.7 L455.5,555.4 L456.5,555.1 L457.5,555.3 L458.5,555.7 L459.5,555.3 L460.5,555.3 L461.5,555.9 L462.5,555.8 L463.5,555.4 L464.5,555.4 L465.5,555.7 L466.5,555.5 L467.5,556.2 L468.5,555.8 L469.5,555.9 L470.5,556.1 L471.5,556.3 L472.5,556.4 L473.5,556.6 L474.5,556.7 L475.5,556.5 L476.5,556.3 L477.5,557.0 L478.5,556.7 L479.5,556.2 L480.5,556.4 L481.5,556.6 L482.5,556.8 L483.5,556.0 L484.5,555.9 L485.5,556.2 L486.5,556.2 L487.5,556.5 L488.5,556.4 L489.5,556.0 L490.5,556.0 L491.5,556.1 L491.5,559.4 L117.5,559.4 Z" fill="#c0c0c0" stroke="none"/>
<path d="M117.5,558.0 L118.5,557.4 L119.5,557.6 L120.5,557.6 L121.5,557.2 L122.5,557.5 L123.5,557.6 L124.5,557.3 L125.5,557.4 L126.5,557.3 L127.5,556.9 L128.5,556.9 L129.5,557.4 L130.5,556.8 L131.5,556.8 L132.5,556.5 L133.5,556.5 L134.5,556.5 L135.5,557.1 L136.5,556.9 L137.5,557.0 L138.5,557.1 L139.5,556.8 L140.5,557.1 L141.5,556.9 L142.5,556.9 L143.5,557.4 L144.5,557.4 L145.5,557.5 L146.5,557.3 L147.5,557.6 L148.5,557.4 L149.5,558.0 L150.5,558.0 L151.5,557.6 L152.5,558.2 L153.5,557.8 L154.5,557.8 L155.5,558.4 L156.5,558.0 L157.5,558.2 L158.5,558.2 L159.5,557.6 L160.5,558.0 L161.5,557.5 L162.5,557.4 L163.5,557.2 L164.5,557.4 L165.5,557.4 L166.5,556.9 L167.5,556.7 L168.5,556.8 L169.5,556.8 L170.5,556.5 L171.5,556.5 L172.5,556.9 L173.5,556.8 L174.5,557.0 L175.5,556.9 L176.5,556.8 L177.5,556.3 L178.5,556.1 L179.5,556.1 L180.5,556.2 L181.5,556.2 L182.5,556.2 L183.5,556.0 L184.5,556.4 L185.5,555.9 L186.5,556.1 L187.5,556.6 L188.5,556.7 L189.5,556.5 L190.5,556.7 L191.5,557.4 L192.5,557.0 L193.5,557.2 L194.5,557.7 L195.5,557.8 L196.5,557.6 L197.5,557.6 L198.5,557.7 L199.5,558.2 L200.5,558.0 L201.5,558.5 L202.5,558.4 L203.5,558.6 L204.5,557.8 L205.5,557.9 L206.5,557.8 L207.5,558.0 L208.5,557.8 L209.5,557.3 L210.5,557.5 L211.5,556.8 L212.5,556.7 L213.5,556.4 L214.5,556.6 L215.5,556.1 L216.5,555.8 L217.5,555.5 L218.5,555.7 L219.5,555.8 L220.5,555.7 L221.5,555.8 L222.5,555.6 L223.5,555.1 L224.5,554.9 L225.5,555.3 L226.5,555.3 L227.5,555.0 L228.5,555.2 L229.5,554.9 L230.5,554.7 L231.5,554.5 L232.5,554.4 L233.5,554.8 L234.5,554.9 L235.5,554.9 L236.5,554.5 L237.5,554.5 L238.5,554.6 L239.5,554.4 L240.5,554.2 L241.5,553.9 L242.5,553.8 L243.5,553.4 L244.5,553.2 L245.5,553.5 L246.5,553.5 L247.5,552.9 L248.5,552.4 L249.5,551.9 L250.5,551.6 L251.5,551.4 L252.5,550.7 L253.5,550.7 L254.5,549.7 L255.5,549.5 L256.5,549.3 L257.5,548.9 L258.5,548.8 L259.5,548.3 L260.5,547.7 L261.5,546.8 L262.5,545.7 L263.5,545.4 L264.5,544.7 L265.5,543.9 L266.5,543.1 L267.5,542.8 L268.5,542.4 L269.5,541.1 L270.5,540.7 L271.5,539.5 L272.5,538.5 L273.5,537.6 L274.5,536.4 L275.5,534.8 L276.5,533.1 L277.5,532.5 L278.5,530.7 L279.5,529.8 L280.5,529.2 L281.5,527.8 L282.5,526.9 L283.5,526.5 L284.5,525.4 L285.5,523.9 L286.5,522.8 L287.5,521.5 L288.5,520.3 L289.5,519.3 L290.5,518.9 L291.5,517.4 L292.5,516.8 L293.5,516.1 L294.5,515.5 L295.5,515.3 L296.5,515.0 L297.5,514.6 L298.5,514.1 L299.5,513.9 L300.5,512.7 L301.5,512.3 L302.5,512.1 L303.5,510.5 L304.5,509.8 L305.5,509.2 L306.5,508.1 L307.5,507.5 L308.5,506.2 L309.5,505.5 L310.5,505.2 L311.5,503.6 L312.5,503.3 L313.5,501.9 L314.5,501.8 L315.5,500.9 L316.5,500.2 L317.5,499.2 L318.5,498.5 L319.5,498.6 L320.5,497.8 L321.5,497.5 L322.5,497.8 L323.5,497.6 L324.5,496.8 L325.5,497.4 L326.5,496.9 L327.5,496.7 L328.5,496.4 L329.5,496.6 L330.5,497.2 L331.5,496.8 L332.5,496.9 L333.5,497.2 L334.5,497.5 L335.5,498.1 L336.5,498.9 L337.5,498.6 L338.5,499.1 L339.5,500.2 L340.5,500.8 L341.5,501.4 L342.5,501.5 L343.5,502.2 L344.5,503.4 L345.5,503.6 L346.5,504.4 L347.5,504.6 L348.5,504.9 L349.5,505.6 L350.5,506.4 L351.5,506.8 L352.5,507.1 L353.5,507.5 L354.5,508.0 L355.5,508.4 L356.5,509.0 L357.5,509.7 L358.5,509.8 L359.5,510.7 L360.5,511.6 L361.5,512.2 L362.5,512.4 L363.5,513.7 L364.5,514.4 L365.5,514.6 L366.5,515.5 L367.5,516.3 L368.5,517.0 L369.5,518.7 L370.5,519.2 L371.5,520.5 L372.5,520.8 L373.5,521.6 L374.5,523.2 L375.5,524.0 L376.5,525.0 L377.5,525.6 L378.5,526.3 L379.5,527.3 L380.5,527.5 L381.5,528.6 L382.5,529.2 L383.5,529.5 L384.5,530.5 L385.5,530.7 L386.5,531.4 L387.5,531.7 L388.5,532.1 L389.5,532.7 L390.5,533.4 L391.5,534.2 L392.5,534.8 L393.5,535.3 L394.5,535.9 L395.5,536.1 L396.5,537.2 L397.5,537.3 L398.5,537.8 L399.5,538.7 L400.5,539.5 L401.5,539.8 L402.5,540.7 L403.5,541.1 L404.5,542.2 L405.5,542.4 L406.5,542.9 L407.5,543.5 L408.5,544.2 L409.5,544.6 L410.5,544.6 L411.5,544.9 L412.5,545.4 L413.5,545.3 L414.5,545.9 L415.5,546.5 L416.5,546.7 L417.5,546.4 L418.5,547.3 L419.5,547.2 L420.5,547.9 L421.5,547.7 L422.5,547.8 L423.5,548.3 L424.5,548.8 L425.5,548.7 L426.5,549.3 L427.5,549.4 L428.5,549.5 L429.5,549.8 L430.5,550.4 L431.5,550.7 L432.5,551.1 L433.5,551.7 L434.5,552.2 L435.5,552.3 L436.5,552.2 L437.5,552.5 L438.5,552.9 L439.5,553.3 L440.5,553.1 L441.5,553.2 L442.5,553.6 L443.5,553.7 L444.5,553.6 L445.5,554.2 L446.5,554.6 L447.5,554.3 L448.5,554.6 L449.5,554.8 L450.5,554.9 L451.5,555.0 L452.5,554.7 L453.5,555.0 L454.5,554.7 L455.5,555.4 L456.5,555.1 L457.5,555.3 L458.5,555.7 L459.5,555.3 L460.5,555.3 L461.5,555.9 L462.5,555.8 L463.5,555.4 L464.5,555.4 L465.5,555.7 L466.5,555.5 L467.5,556.2 L468.5,555.8 L469.5,555.9 L470.5,556.1 L471.5,556.3 L472.5,556.4 L473.5,556.6 L474.5,556.7 L475.5,556.5 L476.5,556.3 L477.5,557.0 L478.5,556.7 L479.5,556.2 L480.5,556.4 L481.5,556.6 L482.5,556.8 L483.5,556.0 L484.5,555.9 L485.5,556.2 L486.5,556.2 L487.5,556.5 L488.5,556.4 L489.5,556.0 L490.5,556.0 L491.5,556.1" fill="none" stroke="#000" stroke-width="1.3" stroke-linejoin="round"/>
</g>
<g stroke="#000" stroke-width="1.5" fill="none">
<path d="M117.4,228.75 V565.8"/>
<path d="M116.75,229.5 H491"/>
<path d="M117.50,559.2 v6.6"/>
<path d="M144.12,559.2 v3.4"/>
<path d="M170.75,559.2 v6.6"/>
<path d="M197.38,559.2 v3.4"/>
<path d="M224.00,559.2 v6.6"/>
<path d="M250.62,559.2 v3.4"/>
<path d="M277.25,559.2 v6.6"/>
<path d="M303.88,559.2 v3.4"/>
<path d="M330.50,559.2 v6.6"/>
<path d="M357.12,559.2 v3.4"/>
<path d="M383.75,559.2 v6.6"/>
<path d="M410.38,559.2 v3.4"/>
<path d="M437.00,559.2 v6.6"/>
<path d="M463.62,559.2 v3.4"/>
<path d="M490.25,559.2 v6.6"/>
<path d="M516.88,559.2 v3.4"/>
<path d="M117.5,259.3 h-7.2"/>
<path d="M117.5,334.15 h-3.7"/>
<path d="M117.5,409.0 h-7.2"/>
<path d="M117.5,483.85 h-3.7"/>
<path d="M117.5,558.6 h-7.2"/>
<path stroke-width="1.2" d="M118.88,229.5 v3.5"/>
<path stroke-width="1.2" d="M122.50,229.5 v7"/>
<path stroke-width="1.2" d="M126.92,229.5 v3.5"/>
<path stroke-width="1.2" d="M132.45,229.5 v7"/>
<path stroke-width="1.2" d="M139.56,229.5 v3.5"/>
<path stroke-width="1.2" d="M149.03,229.5 v7"/>
<path stroke-width="1.2" d="M162.30,229.5 v3.5"/>
<path stroke-width="1.2" d="M182.20,229.5 v7"/>
<path stroke-width="1.2" d="M215.37,229.5 v3.5"/>
<path stroke-width="1.2" d="M281.70,229.5 v7"/>
<path stroke-width="1.2" d="M480.70,229.5 v3.5"/>
<path stroke-width="1.2" d="M124.9,229.5 v3.5"/>
</g>
<g fill="#000" font-size="20.8px">
<text transform="translate(117.5,586.2) scale(1,1.05)" text-anchor="middle">0,0</text>
<text transform="translate(170.8,586.2) scale(1,1.05)" text-anchor="middle">0,5</text>
<text transform="translate(224.0,586.2) scale(1,1.05)" text-anchor="middle">1,0</text>
<text transform="translate(277.2,586.2) scale(1,1.05)" text-anchor="middle">1,5</text>
<text transform="translate(330.5,586.2) scale(1,1.05)" text-anchor="middle">2,0</text>
<text transform="translate(383.8,586.2) scale(1,1.05)" text-anchor="middle">2,5</text>
<text transform="translate(437.0,586.2) scale(1,1.05)" text-anchor="middle">3,0</text>
<text transform="translate(490.2,586.2) scale(1,1.05)" text-anchor="middle">3,5</text>
<text transform="translate(120.3,223.1) scale(1,1.05)" text-anchor="middle">1000</text>
<text transform="translate(182.3,223.1) scale(1,1.05)" text-anchor="middle">400</text>
<text transform="translate(281.8,223.1) scale(1,1.05)" text-anchor="middle">200</text>
<text transform="translate(479.6,223.1) scale(1,1.05)" text-anchor="middle">100</text>
<text transform="translate(111.2,562.8) scale(1,1.05)" text-anchor="end">0</text>
<text transform="translate(105.1,267.3) scale(1,1.05)" text-anchor="end">2x10</text><text transform="translate(105.1,255.9) scale(1,1.05)" text-anchor="start" font-size="12.2px">9</text>
<text transform="translate(105.1,417) scale(1,1.05)" text-anchor="end">1x10</text><text transform="translate(105.1,405.6) scale(1,1.05)" text-anchor="start" font-size="12.2px">9</text>
</g>
<g fill="#000" font-size="20.8px">
<text transform="translate(337.8,196.9) scale(1,1.03)" text-anchor="middle" font-size="21.0px">Velocity (m/s)</text>
<text transform="translate(341,616.7) scale(1,1.03)" text-anchor="middle" font-size="20.9px">Time of flight (ms)</text>
<text font-size="21.3px" transform="translate(44.4,504.7) rotate(-90)"><tspan letter-spacing="0.7">CHF</tspan><tspan font-size="12.5px" dy="7.9">3</tspan><tspan dy="-7.9"> density</tspan><tspan dx="-2.2"> (cm</tspan><tspan font-size="12.8px" dy="-11.5">-3</tspan><tspan dy="11.5">)</tspan></text>
</g>
<rect x="309.2" y="453.7" width="56.8" height="31" fill="#fff"/>
<text transform="translate(338,475.8) scale(1,1.04)" text-anchor="middle" font-size="19.2px">x400</text>
<rect x="404.1" y="236.1" width="100" height="164.2" fill="#fff" stroke="#262626" stroke-width="1.05"/>
<g font-size="19.7px" fill="#000">
<text transform="translate(413,266.5) scale(1,1.04)" text-anchor="start">Voltage control</text>
<text transform="translate(461.4,290.6) scale(1,1.04)" text-anchor="start">f = 10 Hz</text>
<text transform="translate(461.4,314.7) scale(1,1.04)" text-anchor="start">f = 20 Hz</text>
<text transform="translate(413,338.7) scale(1,1.04)" text-anchor="start">Voltage control</text>
<text transform="translate(461.4,362.8) scale(1,1.04)" text-anchor="start">f = 10 Hz</text>
<text transform="translate(461.4,386.9) scale(1,1.04)" text-anchor="start">f = 20 Hz</text>
</g>
<path d="M412.9,283.7 H456.3" stroke="#ff0000" stroke-width="1.3" stroke-dasharray="4.1,3"/>
<path d="M412.9,308.35 H456.3" stroke="#ff0000" stroke-width="1.1"/>
<path d="M412.9,355.8 H456.3" stroke="#000" stroke-width="1.3" stroke-dasharray="4.6,3.7"/>
<path d="M412.9,380.45 H456.3" stroke="#000" stroke-width="1.1"/>
</svg>
</body></html>
